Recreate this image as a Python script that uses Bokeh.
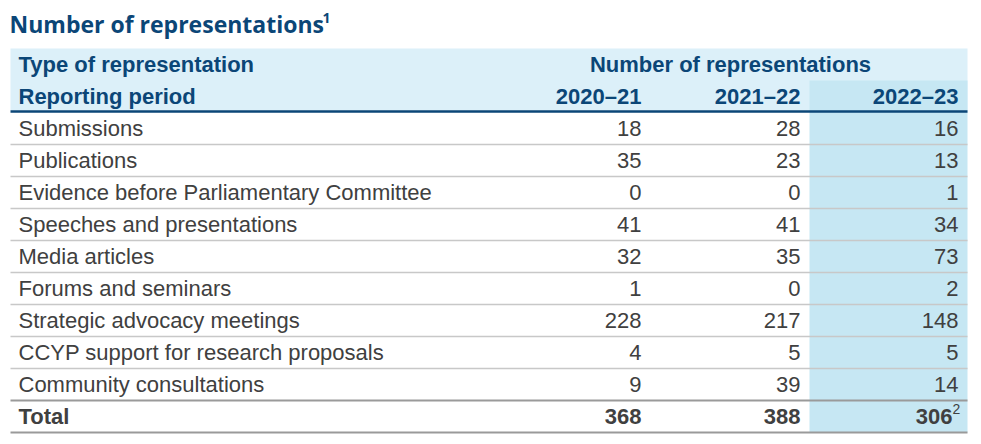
from bokeh.plotting import figure
from bokeh.models import Range1d, ColumnDataSource
from bokeh.core.properties import value
from bokeh.embed import file_html
from bokeh.resources import INLINE

title = "Number of representations"
title_note = "1"
col_group = "Number of representations"
row_header1 = "Type of representation"
row_header2 = "Reporting period"
periods = ["2020–21", "2021–22", "2022–23"]
categories = [
    "Submissions",
    "Publications",
    "Evidence before Parliamentary Committee",
    "Speeches and presentations",
    "Media articles",
    "Forums and seminars",
    "Strategic advocacy meetings",
    "CCYP support for research proposals",
    "Community consultations",
]
v2021 = [18, 35, 0, 41, 32, 1, 228, 4, 9]
v2122 = [28, 23, 0, 41, 35, 0, 217, 5, 39]
v2223 = [16, 13, 1, 34, 73, 2, 148, 5, 14]
total_label = "Total"
totals = [368, 388, 306]
total_note = "2"

W, H = 973, 436
p = figure(width=W, height=H, output_backend="svg", toolbar_location=None,
           x_range=Range1d(0, W), y_range=Range1d(H, 0),
           x_axis_location=None, y_axis_location=None, min_border=0)
p.grid.visible = False
p.outline_line_color = None
p.background_fill_color = "white"
p.border_fill_color = "white"

DARK = "#0b4677"
TXT = "#404040"
HDR_BG = "#dcf0f9"
COL3_BG = "#c6e7f3"
FONT = value("Liberation Sans")
FS = "22px"
DY = -8  # baseline correction

left, right = 10, 967
row_h = 32
top_data = 112
col_right = [641, 800, 958]
col3_left = 809

# header background
p.quad(left=left, right=right, top=48, bottom=110, fill_color=HDR_BG, line_color=None)
# highlighted column
p.quad(left=col3_left, right=right, top=80, bottom=432, fill_color=COL3_BG, line_color=None)

n = len(categories)
# row separators
ys_light = [top_data + row_h * (i + 1) for i in range(n - 1)]
p.segment(x0=[left] * len(ys_light), x1=[right] * len(ys_light), y0=ys_light, y1=ys_light,
          line_color="#c8c8c8", line_width=1.5)
y_tot_top = top_data + row_h * n
y_bottom = y_tot_top + row_h
p.segment(x0=[left, left], x1=[right, right], y0=[y_tot_top, y_bottom], y1=[y_tot_top, y_bottom],
          line_color="#9a9a9a", line_width=2)
p.segment(x0=[left], x1=[right], y0=[111], y1=[111], line_color=DARK, line_width=2.5)

# title
p.text(x=[9], y=[31 + DY], text=[title], text_font=value("Open Sans"), text_font_style="bold",
       text_font_size="23px", text_color=DARK, text_baseline="alphabetic", text_align="left")
p.text(x=[322], y=[25 + DY], text=[title_note], text_font=value("Open Sans"), text_font_style="bold",
       text_font_size="14px", text_color=DARK, text_baseline="alphabetic", text_align="left")

# headers
p.text(x=[18, 18], y=[72 + DY, 104 + DY], text=[row_header1, row_header2], text_font=FONT,
       text_font_style="bold", text_font_size=FS, text_color=DARK,
       text_baseline="alphabetic", text_align="left")
p.text(x=[730], y=[72 + DY], text=[col_group], text_font=FONT, text_font_style="bold",
       text_font_size=FS, text_color=DARK, text_baseline="alphabetic", text_align="center")
p.text(x=col_right, y=[104 + DY] * 3, text=periods, text_font=FONT, text_font_style="bold",
       text_font_size=FS, text_color=DARK, text_baseline="alphabetic", text_align="right")

# data rows
ys = [top_data + row_h * i + 24 + DY for i in range(n)]
src = ColumnDataSource(dict(y=ys, cat=categories,
                            a=[str(v) for v in v2021],
                            b=[str(v) for v in v2122],
                            c=[str(v) for v in v2223]))
p.text(x=18, y="y", text="cat", source=src, text_font=FONT, text_font_size=FS,
       text_color=TXT, text_baseline="alphabetic", text_align="left")
for colname, xr in zip(["a", "b", "c"], col_right):
    p.text(x=xr, y="y", text=colname, source=src, text_font=FONT, text_font_size=FS,
           text_color=TXT, text_baseline="alphabetic", text_align="right")

# total row
yt = y_tot_top + 24 + DY
p.text(x=[18], y=[yt], text=[total_label], text_font=FONT, text_font_style="bold",
       text_font_size=FS, text_color=TXT, text_baseline="alphabetic", text_align="left")
tot_x = [col_right[0], col_right[1], col_right[2] - 6]
p.text(x=tot_x, y=[yt] * 3, text=[str(t) for t in totals], text_font=FONT,
       text_font_style="bold", text_font_size=FS, text_color=TXT,
       text_baseline="alphabetic", text_align="right")
p.text(x=[col_right[2] - 6], y=[yt - 8], text=[total_note], text_font=FONT,
       text_font_size="14px", text_color=TXT, text_baseline="alphabetic", text_align="left")

open("out.html", "w").write(file_html(p, INLINE))
